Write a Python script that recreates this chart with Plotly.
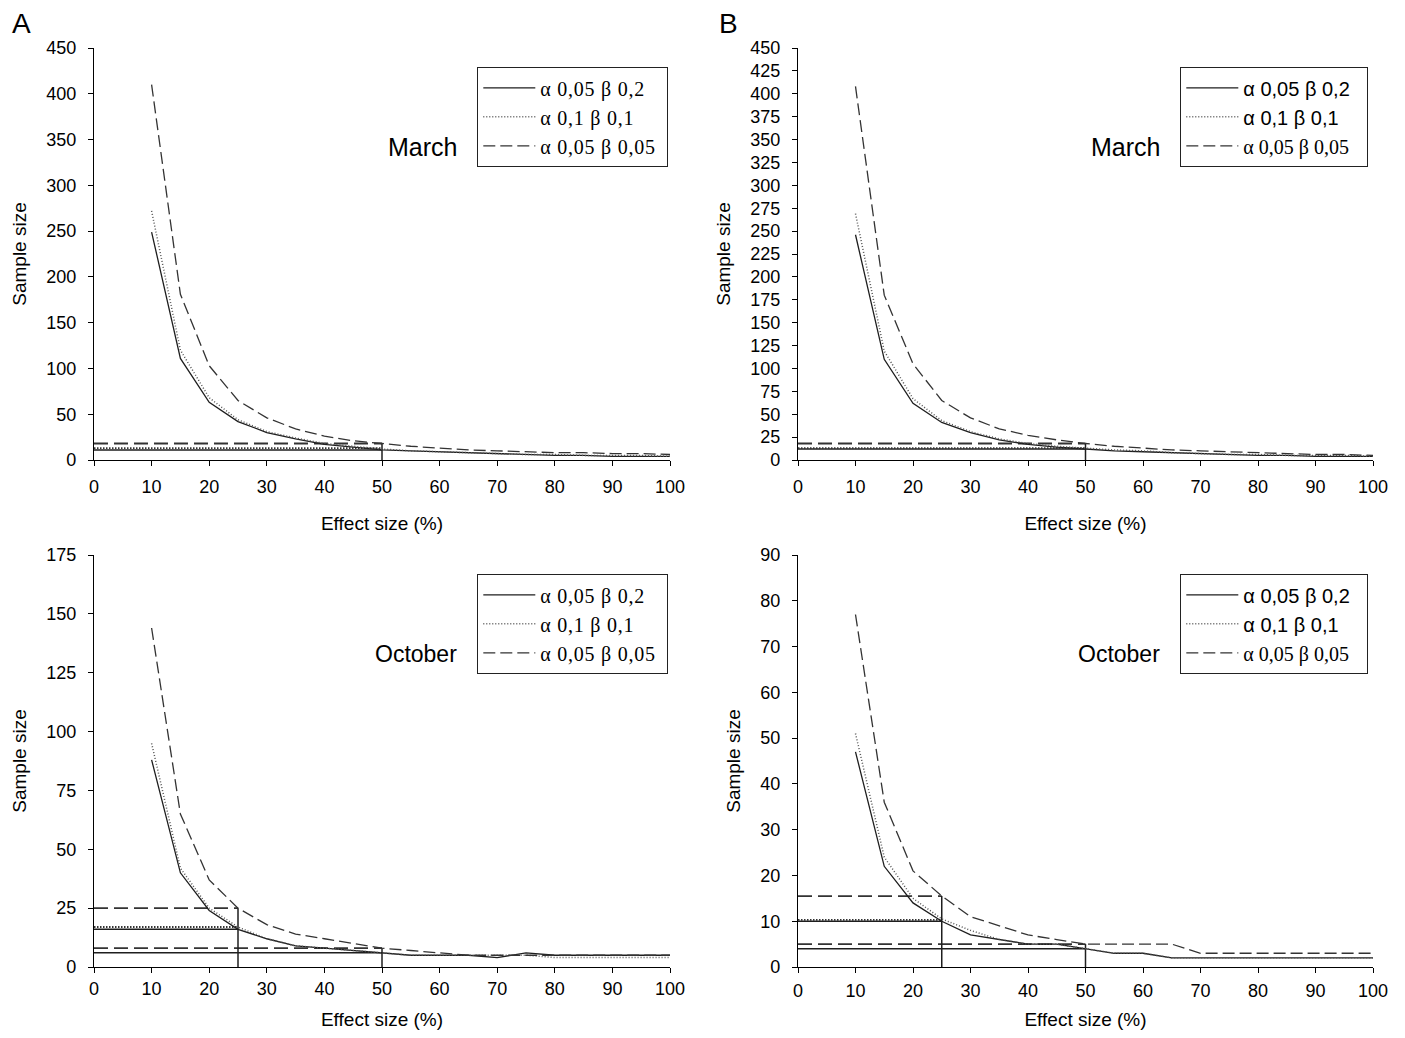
import plotly.graph_objects as go

# ---------------- data ----------------
EFFECT = [10, 15, 20, 25, 30, 35, 40, 45, 50, 55, 60, 65, 70, 75, 80, 85, 90, 95, 100]
SERIES_LABELS = ["α 0,05 β 0,2", "α 0,1 β 0,1", "α 0,05 β 0,05"]

# A - March
A_MAR_SOLID = [249, 111, 63, 42, 30, 23, 17, 14, 11, 10, 9, 8, 7, 6, 5, 5, 4, 4, 4]
A_MAR_DOTTED = [272, 120, 68, 44, 31, 24, 18, 15, 12, 10, 9, 8, 7, 6, 6, 5, 5, 5, 4]
A_MAR_DASHED = [410, 181, 103, 65, 46, 34, 26, 21, 18, 15, 13, 11, 10, 9, 8, 8, 7, 7, 6]
A_MAR_REF_EFFECT = [50]
A_MAR_REF_SOLID = [11]
A_MAR_REF_DOTTED = [13]
A_MAR_REF_DASHED = [18]

# B - March
B_MAR_SOLID = [246, 110, 62, 41, 30, 22, 17, 14, 12, 10, 9, 8, 7, 6, 5, 5, 4, 4, 4]
B_MAR_DOTTED = [269, 119, 67, 43, 31, 23, 18, 15, 13, 11, 10, 8, 7, 6, 6, 5, 5, 5, 4]
B_MAR_DASHED = [408, 180, 105, 65, 46, 34, 27, 22, 18, 15, 13, 11, 10, 9, 8, 7, 6, 6, 5]
B_MAR_REF_EFFECT = [50]
B_MAR_REF_SOLID = [12]
B_MAR_REF_DOTTED = [13]
B_MAR_REF_DASHED = [18]

# A - October
A_OCT_SOLID = [88, 40, 24, 16, 12, 9, 8, 7, 6, 5, 5, 5, 4, 6, 5, 5, 5, 5, 5]
A_OCT_DOTTED = [95, 42, 25, 17, 12, 9, 8, 7, 6, 5, 5, 5, 5, 5, 4, 4, 4, 4, 4]
A_OCT_DASHED = [144, 65, 37, 25, 18, 14, 12, 10, 8, 7, 6, 5, 5, 5, 5, 5, 5, 5, 5]
A_OCT_REF_EFFECT = [25, 50]
A_OCT_REF_SOLID = [16, 6]
A_OCT_REF_DOTTED = [17, None]
A_OCT_REF_DASHED = [25, 8]

# B - October
B_OCT_SOLID = [47, 22, 14, 10, 7, 6, 5, 5, 4, 3, 3, 2, 2, 2, 2, 2, 2, 2, 2]
B_OCT_DOTTED = [51, 24, 15, 10.5, 8, 6, 5, 5, 4, 3, 3, 2, 2, 2, 2, 2, 2, 2, 2]
B_OCT_DASHED = [77, 36, 21, 15.5, 11, 9, 7, 6, 5, 5, 5, 5, 3, 3, 3, 3, 3, 3, 3]
B_OCT_REF_EFFECT = [25, 50]
B_OCT_REF_SOLID = [10, 4]
B_OCT_REF_DOTTED = [10.3, None]
B_OCT_REF_DASHED = [15.5, 5]

# ---------------- styling ----------------
W, H = 1405, 1038          # browser window
OFF = 8                    # default page body margin
FW, FH = W - 2 * OFF, H - 2 * OFF
SANS = "Arial, 'Liberation Sans', sans-serif"
SERIF = "'Times New Roman', 'Liberation Serif', serif"
STYLES = [
    dict(color="#1e1e1e", width=1.3, dash="solid"),
    dict(color="#555555", width=1.5, dash="1px,2px"),
    dict(color="#333333", width=1.3, dash="12px,5px"),
]
REF_STYLES = [
    dict(color="#1e1e1e", width=1.5, dash="solid"),
    dict(color="#333333", width=1.8, dash="1.5px,1.5px"),
    dict(color="#333333", width=1.8, dash="14px,6px"),
]


def px_x(v):
    return (v - OFF) / FW


def px_y(v):
    return 1 - (v - OFF) / FH


panels = [
    ("", [A_MAR_SOLID, A_MAR_DOTTED, A_MAR_DASHED],
     (A_MAR_REF_EFFECT, A_MAR_REF_SOLID, A_MAR_REF_DOTTED, A_MAR_REF_DASHED),
     (94, 670), (48, 460), 450, 50, "legend", "March", 5),
    ("2", [B_MAR_SOLID, B_MAR_DOTTED, B_MAR_DASHED],
     (B_MAR_REF_EFFECT, B_MAR_REF_SOLID, B_MAR_REF_DOTTED, B_MAR_REF_DASHED),
     (798, 1373), (48, 460), 450, 25, "legend2", "March", 5),
    ("3", [A_OCT_SOLID, A_OCT_DOTTED, A_OCT_DASHED],
     (A_OCT_REF_EFFECT, A_OCT_REF_SOLID, A_OCT_REF_DOTTED, A_OCT_REF_DASHED),
     (94, 670), (555, 967), 175, 25, "legend3", "October", 0),
    ("4", [B_OCT_SOLID, B_OCT_DOTTED, B_OCT_DASHED],
     (B_OCT_REF_EFFECT, B_OCT_REF_SOLID, B_OCT_REF_DOTTED, B_OCT_REF_DASHED),
     (798, 1373), (555, 967), 90, 10, "legend4", "October", 2),
]

fig = go.Figure()
layout = {}
annotations = []

NB = "\u00a0"
A_LABELS = ['<span style="letter-spacing:0.75px">' + s + NB + "</span>" for s in SERIES_LABELS]
B_LABELS = [SERIES_LABELS[0] + NB * 2, SERIES_LABELS[1] + NB * 2,
            '<span style="font-family:Liberation Serif">' + SERIES_LABELS[2] + NB * 2 + "</span>"]

for i, (suf, series, refs, xd, yd, ymax, dtick, leg, month, xstand) in enumerate(panels):
    xa, ya = "x" + suf, "y" + suf
    labels = B_LABELS if suf in ("2", "4") else A_LABELS
    ref_eff, r_solid, r_dotted, r_dashed = refs
    for k, vals in enumerate([r_solid, r_dotted, r_dashed]):
        for e, v in zip(ref_eff, vals):
            if v is None:
                continue
            fig.add_trace(go.Scatter(x=[0, e], y=[v, v], mode="lines", line=REF_STYLES[k],
                                     xaxis=xa, yaxis=ya, showlegend=False, hoverinfo="skip"))
    for e, v in zip(ref_eff, r_dashed):
        fig.add_trace(go.Scatter(x=[e, e], y=[0, v], mode="lines", line=REF_STYLES[0],
                                 xaxis=xa, yaxis=ya, showlegend=False, hoverinfo="skip"))
    for k, ys in enumerate(series):
        fig.add_trace(go.Scatter(x=EFFECT, y=ys, mode="lines", name=labels[k], line=STYLES[k],
                                 xaxis=xa, yaxis=ya, legend=leg, showlegend=True))

    axis_common = dict(showline=True, linecolor="black", linewidth=1.2, ticks="outside",
                       ticklen=5, tickwidth=1.2, tickcolor="black", showgrid=False,
                       zeroline=False, tickfont=dict(family=SANS, size=18, color="black"),
                       title_font=dict(family=SANS, size=19, color="black"), automargin=False)
    layout["xaxis" + suf] = dict(axis_common, domain=[px_x(xd[0]), px_x(xd[1])], range=[0, 100],
                                 dtick=10, tick0=0, anchor=ya, ticklabelstandoff=xstand,
                                 title=dict(text="Effect size (%)", standoff=20))
    layout["yaxis" + suf] = dict(axis_common, domain=[px_y(yd[1]), px_y(yd[0])], range=[0, ymax],
                                 dtick=dtick, tick0=0, anchor=xa, ticklabelstandoff=8,
                                 title=dict(text="Sample size", standoff=14))
    legfont = dict(family=SERIF if suf in ("", "3") else SANS, size=20, color="black")
    layout[leg] = dict(x=px_x(xd[1] - 2 if suf in ("", "3") else xd[1] - 5),
                       y=px_y(67 if ymax == 450 else 574),
                       xanchor="right", yanchor="top", bgcolor="white", bordercolor="#222",
                       borderwidth=1.3, font=legfont, itemwidth=52, tracegroupgap=0)
    annotations.append(dict(text=month, xref="paper", yref="paper",
                            x=px_x(xd[1] - 211), y=px_y(147 if ymax == 450 else 654),
                            xanchor="right", yanchor="middle", showarrow=False,
                            font=dict(family=SANS, size=25 if month == "March" else 23,
                                      color="black")))

annotations.append(dict(text="A", xref="paper", yref="paper", x=px_x(10), y=px_y(23),
                        xanchor="left", yanchor="middle", showarrow=False,
                        font=dict(family=SANS, size=28, color="black")))
annotations.append(dict(text="B", xref="paper", yref="paper", x=px_x(717), y=px_y(23),
                        xanchor="left", yanchor="middle", showarrow=False,
                        font=dict(family=SANS, size=28, color="black")))

fig.update_layout(**layout)
fig.update_layout(width=FW, height=FH, margin=dict(l=0, r=0, t=0, b=0),
                  paper_bgcolor="white", plot_bgcolor="white", annotations=annotations,
                  font=dict(family=SANS, color="black"))

fig.write_html("out.html")
